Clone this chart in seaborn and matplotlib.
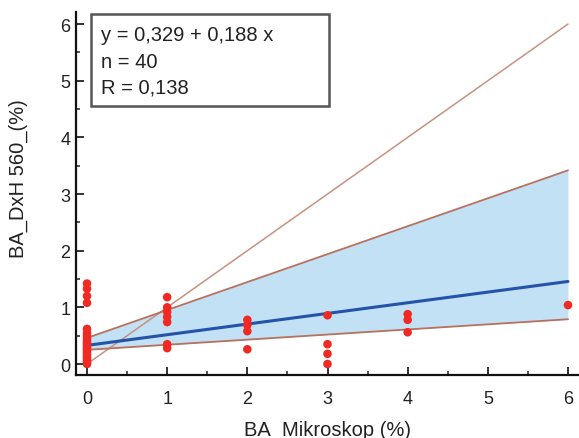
import numpy as np
import pandas as pd
import matplotlib
matplotlib.use("Agg")
import matplotlib.pyplot as plt
from matplotlib.patches import Rectangle
from matplotlib.ticker import MultipleLocator
import seaborn as sns

# Paired measurements (%), microscope vs. DxH 560
mikroskop = [0] * 21 + [1] * 7 + [2] * 4 + [3] * 4 + [4] * 3 + [6]
dxh = [1.42, 1.33, 1.20, 1.08, 0.62, 0.55, 0.50, 0.45, 0.40, 0.37, 0.34,
       0.30, 0.27, 0.24, 0.20, 0.16, 0.12, 0.09, 0.05, 0.02, 0.00,
       1.18, 1.00, 0.92, 0.83, 0.74, 0.35, 0.28,
       0.78, 0.69, 0.58, 0.26,
       0.86, 0.35, 0.18, 0.00,
       0.88, 0.78, 0.56,
       1.04]

# Regression fit and confidence limits (intercept, slope)
fit_intercept, fit_slope = 0.329, 0.188
ci_upper = (0.46, 0.493)
ci_lower = (0.25, 0.090)
n_obs = 40
r_value = 0.138

x_range = [0, 6]
ticks = [0, 1, 2, 3, 4, 5, 6]

df = pd.DataFrame({"BA_Mikroskop": mikroskop, "BA_DxH": dxh})
xs = np.array(x_range, dtype=float)
lines = pd.DataFrame({
    "x": xs,
    "fit": fit_intercept + fit_slope * xs,
    "upper": ci_upper[0] + ci_upper[1] * xs,
    "lower": ci_lower[0] + ci_lower[1] * xs,
    "identity": xs,
})

sns.set_style("white")
plt.rcParams["font.family"] = ["Liberation Sans", "DejaVu Sans"]

fig = plt.figure(figsize=(5.79, 4.39), dpi=100)
ax = fig.add_axes([0.1313, 0.1435, 0.867, 0.8265])

brown = "#b8715f"
ax.fill_between(lines["x"], lines["lower"], lines["upper"],
                color="#c2e1f5", lw=0, zorder=1)
sns.lineplot(data=lines, x="x", y="identity", color="#c79282", lw=1.1, ax=ax, zorder=2)
sns.lineplot(data=lines, x="x", y="upper", color=brown, lw=1.3, ax=ax, zorder=2)
sns.lineplot(data=lines, x="x", y="lower", color=brown, lw=1.3, ax=ax, zorder=2)
sns.lineplot(data=lines, x="x", y="fit", color="#2553a8", lw=2.2, ax=ax, zorder=3)
sns.scatterplot(data=df, x="BA_Mikroskop", y="BA_DxH", color="#f02a22",
                s=38, edgecolor="none", ax=ax, zorder=4)

ax.set_xlim(-0.137, 6.125)
ax.set_ylim(-0.194, 6.21)
ax.set_xticks(ticks)
ax.set_yticks(ticks)
ax.xaxis.set_minor_locator(MultipleLocator(0.5))
ax.yaxis.set_minor_locator(MultipleLocator(0.5))
ax.tick_params(which="major", direction="in", length=6, width=1.3,
               labelsize=13, color="#222222", labelcolor="#222222")
ax.tick_params(which="minor", direction="in", length=3, width=1.1, color="#222222")
ax.tick_params(axis="x", which="major", pad=11)
ax.tick_params(axis="y", which="major", pad=4)
ax.tick_params(bottom=True, left=True, which="both")

for side in ["top", "right"]:
    ax.spines[side].set_visible(False)
for side in ["left", "bottom"]:
    ax.spines[side].set_linewidth(1.6)
    ax.spines[side].set_color("#111111")

ax.set_xlabel("BA_Mikroskop (%)", fontsize=14.5, color="#222222", labelpad=9)
ax.set_ylabel("BA_DxH 560_(%)", fontsize=14.5, color="#222222")
ax.yaxis.set_label_coords(-0.096, 0.543)

box = Rectangle((0.030, 0.741), 0.474, 0.253, transform=ax.transAxes,
                fill=True, facecolor="white", edgecolor="#555555", lw=1.8, zorder=5)
ax.add_patch(box)
stats_lines = [
    f"y = {fit_intercept:.3f} + {fit_slope:.3f} x".replace(".", ","),
    f"n = {n_obs}",
    f"R = {r_value:.3f}".replace(".", ","),
]
for txt, yy in zip(stats_lines, [0.939, 0.865, 0.793]):
    ax.text(0.0498, yy, txt, transform=ax.transAxes, fontsize=14.5,
            va="center", ha="left", color="#222222", zorder=6)

fig.savefig("out.png", dpi=100)
